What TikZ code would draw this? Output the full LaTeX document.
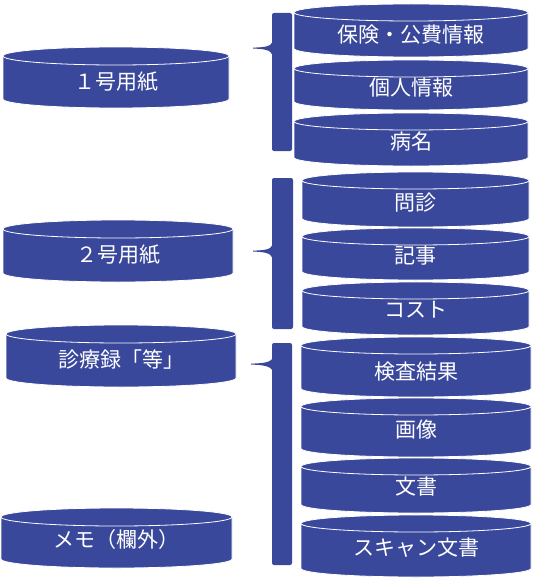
\documentclass[tikz,border=0pt]{standalone}
\usepackage{fontspec}
\newfontfamily\jp{Noto Sans CJK JP}
\definecolor{drumblue}{RGB}{58,72,155}
\tikzset{
  drum/.style={fill=drumblue,draw=white,line width=0.8pt},
  drumrim/.style={draw=white,line width=0.8pt},
  drumtext/.style={text=white,inner sep=0pt,font=\jp\fontsize{21}{24}\selectfont},
  bracefill/.style={fill=drumblue}
}
\def\drumry{9}
% name, left, right, top, bottom, text y, text
\newcommand{\drum}[7]{%
  \pgfmathsetmacro\drumcx{(#2+#3)/2}%
  \pgfmathsetmacro\drumrx{(#3-#2)/2}%
  \draw[drum] (#2,#4+\drumry) arc[start angle=180,end angle=0,x radius=\drumrx pt,y radius=\drumry pt]
    -- (#3,#5-\drumry) arc[start angle=0,end angle=-180,x radius=\drumrx pt,y radius=\drumry pt] -- cycle;
  \draw[drumrim] (#2,#4+\drumry) arc[start angle=180,end angle=360,x radius=\drumrx pt,y radius=\drumry pt];
  \node[drumtext] (#1) at (\drumcx,#6) {#7};
}
% left, right, top, bottom, notch y, tip x
\newcommand{\drumbrace}[6]{%
  \fill[bracefill,rounded corners=2pt] (#2,#3) -- (#1,#3) -- (#1,#4) -- (#2,#4) -- cycle;
  \fill[bracefill] (#1+0.5,#5-6) .. controls (#1-1,#5-1) and (#6+9,#5-0.6) .. (#6,#5-0.4)
    -- (#6,#5+0.6) .. controls (#6+9,#5+0.8) and (#1-1,#5+1.5) .. (#1+0.5,#5+7) -- cycle;
}
\begin{document}
\begin{tikzpicture}[x=1pt,y=-1pt]
\useasboundingbox (0,0) rectangle (534,578);
% left column
\def\drumry{9}
\drum{sheet1}{3}{229}{47}{108}{82}{１号用紙}
\drum{sheet2}{3}{233}{220}{282}{255}{２号用紙}
\drum{records}{6}{236}{325}{387}{360}{診療録「等」}
\drum{memo}{1}{232}{508}{568}{540}{メモ（欄外）}
% right column
\def\drumry{8.5}
\drum{insurance}{294}{528}{4}{57}{35}{保険・公費情報}
\drum{personal}{294}{528}{60}{110}{88}{個人情報}
\drum{disease}{294}{528}{113}{166}{142}{病名}
\drum{interview}{302}{529}{172}{227}{203}{問診}
\drum{notes}{302}{529}{228}{280}{256}{記事}
\drum{cost}{302}{529}{282}{335}{310}{コスト}
\drum{results}{301}{531}{337}{397}{372}{検査結果}
\drum{images}{301}{531}{398}{457}{430}{画像}
\drum{documents}{301}{531}{458}{513}{487}{文書}
\drum{scans}{301}{531}{515}{577}{548}{スキャン文書}
% braces
\drumbrace{272}{292}{13}{151}{48}{253}
\drumbrace{272}{293}{178}{329}{251}{253}
\drumbrace{272}{292}{343}{565}{364}{251}
\end{tikzpicture}
\end{document}
